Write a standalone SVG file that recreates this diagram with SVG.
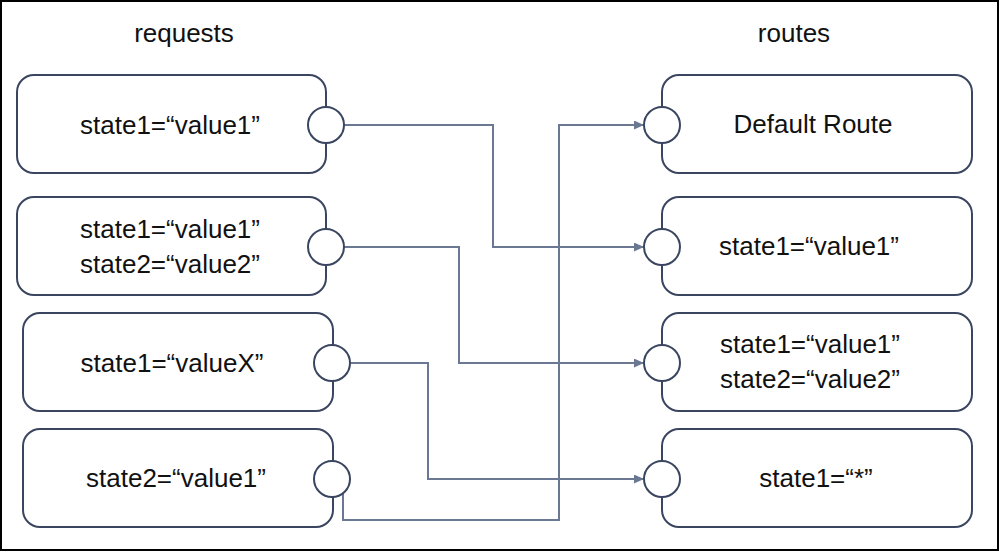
<svg xmlns="http://www.w3.org/2000/svg" width="1000" height="552" viewBox="0 0 1000 552">
  <style>
    .box { fill: #ffffff; stroke: #3a4560; stroke-width: 2; }
    .port { fill: #ffffff; stroke: #3a4560; stroke-width: 2; }
    .lbl { font-family: "Liberation Sans", Arial, sans-serif; font-size: 26px; fill: #111111; text-anchor: middle; }
    .conn { fill: none; stroke: #6b7893; stroke-width: 2; }
  </style>
  <defs>
    <marker id="arrow" markerUnits="userSpaceOnUse" markerWidth="11" markerHeight="10" refX="10" refY="4.5" orient="auto">
      <path d="M0,0 L10,4.5 L0,9 z" fill="#6b7893"/>
    </marker>
  </defs>
  <rect x="1" y="1" width="997" height="549" fill="#ffffff" stroke="#000000" stroke-width="2"/>

  <text class="lbl" x="184" y="42">requests</text>
  <text class="lbl" x="794" y="42">routes</text>

  <g id="connectors">
    <path class="conn" d="M344,125 H493 V247 H644" marker-end="url(#arrow)"/>
    <path class="conn" d="M344,247 H459 V363 H644" marker-end="url(#arrow)"/>
    <path class="conn" d="M350,363 H428 V479 H644" marker-end="url(#arrow)"/>
    <path class="conn" d="M343,493 V520 H559 V125 H644" marker-end="url(#arrow)"/>
  </g>

  <g id="req1">
    <rect class="box" x="17" y="75" width="309" height="98" rx="17"/>
    <circle class="port" cx="326" cy="125" r="18"/>
    <text class="lbl" x="170" y="134">state1=“value1”</text>
  </g>
  <g id="req2">
    <rect class="box" x="17" y="197" width="309" height="98" rx="17"/>
    <circle class="port" cx="326" cy="247" r="18"/>
    <text class="lbl" x="170" y="238">state1=“value1”</text>
    <text class="lbl" x="170" y="273">state2=“value2”</text>
  </g>
  <g id="req3">
    <rect class="box" x="23" y="313" width="310" height="98" rx="17"/>
    <circle class="port" cx="332" cy="363" r="18"/>
    <text class="lbl" x="172" y="372">state1=“valueX”</text>
  </g>
  <g id="req4">
    <rect class="box" x="23" y="429" width="310" height="98" rx="17"/>
    <circle class="port" cx="332" cy="479" r="18"/>
    <text class="lbl" x="176" y="487">state2=“value1”</text>
  </g>

  <g id="route1">
    <rect class="box" x="662" y="75" width="310" height="98" rx="17"/>
    <circle class="port" cx="662" cy="125" r="18"/>
    <text class="lbl" x="813" y="133">Default Route</text>
  </g>
  <g id="route2">
    <rect class="box" x="662" y="197" width="310" height="98" rx="17"/>
    <circle class="port" cx="662" cy="247" r="18"/>
    <text class="lbl" x="809" y="255">state1=“value1”</text>
  </g>
  <g id="route3">
    <rect class="box" x="662" y="313" width="310" height="98" rx="17"/>
    <circle class="port" cx="662" cy="363" r="18"/>
    <text class="lbl" x="810" y="353">state1=“value1”</text>
    <text class="lbl" x="810" y="388">state2=“value2”</text>
  </g>
  <g id="route4">
    <rect class="box" x="662" y="429" width="310" height="98" rx="17"/>
    <circle class="port" cx="662" cy="479" r="18"/>
    <text class="lbl" x="816" y="487">state1=“*”</text>
  </g>
</svg>
